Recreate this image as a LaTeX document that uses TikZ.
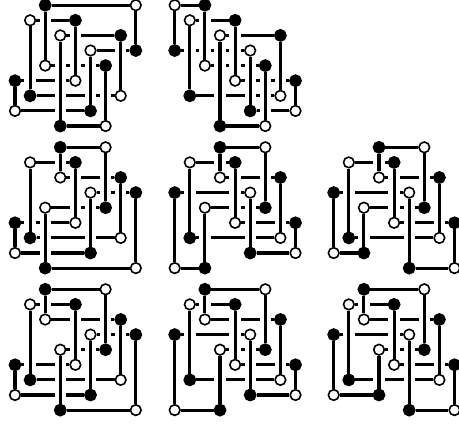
\documentclass[tikz,border=0pt]{standalone}
\tikzset{
  blk/.style={circle,fill=black,draw=black,line width=1.6pt,minimum size=11.2pt,inner sep=0pt},
  wht/.style={circle,fill=white,draw=black,line width=1.6pt,minimum size=10.6pt,inner sep=0pt},
  hseg/.style={draw=black,line width=3.1pt},
  vseg/.style={draw=black,line width=3.1pt,preaction={draw=white,line width=11.4pt}}
}
\newcommand{\gpanel}[5]{%
  \foreach \rw/\xa/\xb/\sa/\sb in {#4}{%
    \node[\sa] (#1-\xa-\rw) at ({#2+\xa*15.1},{#3+\rw*15.1}) {};
    \node[\sb] (#1-\xb-\rw) at ({#2+\xb*15.1},{#3+\rw*15.1}) {};
  }
  \foreach \rw/\xa/\xb/\sa/\sb in {#4}{%
    \draw[hseg] (#1-\xa-\rw) -- (#1-\xb-\rw);
  }
  \foreach \cl/\ya/\yb in {#5}{%
    \draw[vseg] (#1-\cl-\ya) -- (#1-\cl-\yb);
  }
}
\begin{document}
\begin{tikzpicture}[x=1pt,y=-1pt]
\useasboundingbox (0,0) rectangle (459,424);
\gpanel{a}{15}{5.2}
 {0/2/8/blk/wht,1/1/4/wht/blk,2/3/7/wht/blk,3/5/8/wht/blk,4/2/6/wht/blk,5/0/4/blk/wht,6/1/7/blk/wht,7/0/5/wht/blk,8/3/6/blk/wht}
 {0/5/7,1/1/6,2/0/4,3/2/8,4/1/5,5/3/7,6/4/8,7/2/6,8/0/3}
\gpanel{b}{174.7}{5.2}
 {0/0/2/wht/blk,1/1/4/wht/blk,2/3/7/wht/blk,3/0/5/blk/wht,4/2/6/wht/blk,5/4/8/wht/blk,6/1/7/blk/wht,7/5/8/blk/wht,8/3/6/blk/wht}
 {0/0/3,1/1/6,2/0/4,3/2/8,4/1/5,5/3/7,6/4/8,7/2/6,8/5/7}
\gpanel{c}{15}{147.3}
 {0/3/6/blk/wht,1/1/4/wht/blk,2/3/7/wht/blk,3/5/8/wht/blk,4/2/6/wht/blk,5/0/4/blk/wht,6/1/7/blk/wht,7/0/5/wht/blk,8/2/8/blk/wht}
 {0/5/7,1/1/6,2/4/8,3/0/2,4/1/5,5/3/7,6/0/4,7/2/6,8/3/8}
\gpanel{d}{174.7}{147.3}
 {0/3/6/blk/wht,1/1/4/wht/blk,2/3/7/wht/blk,3/0/5/blk/wht,4/2/6/wht/blk,5/4/8/wht/blk,6/1/7/blk/wht,7/5/8/blk/wht,8/0/2/wht/blk}
 {0/3/8,1/1/6,2/4/8,3/0/2,4/1/5,5/3/7,6/0/4,7/2/6,8/5/7}
\gpanel{e}{333.7}{147.3}
 {0/3/6/blk/wht,1/1/4/wht/blk,2/3/7/wht/blk,3/0/5/blk/wht,4/2/6/wht/blk,5/4/8/wht/blk,6/1/7/blk/wht,7/0/2/wht/blk,8/5/8/blk/wht}
 {0/3/7,1/1/6,2/4/7,3/0/2,4/1/5,5/3/8,6/0/4,7/2/6,8/5/8}
\gpanel{f}{15}{289.3}
 {0/2/6/blk/wht,1/1/4/wht/blk,2/2/7/wht/blk,3/5/8/wht/blk,4/3/6/wht/blk,5/0/4/blk/wht,6/1/7/blk/wht,7/0/5/wht/blk,8/3/8/blk/wht}
 {0/5/7,1/1/6,2/0/2,3/4/8,4/1/5,5/3/7,6/0/4,7/2/6,8/3/8}
\gpanel{g}{174.7}{289.3}
 {0/2/6/blk/wht,1/1/4/wht/blk,2/2/7/wht/blk,3/0/5/blk/wht,4/3/6/wht/blk,5/4/8/wht/blk,6/1/7/blk/wht,7/5/8/blk/wht,8/0/3/wht/blk}
 {0/3/8,1/1/6,2/0/2,3/4/8,4/1/5,5/3/7,6/0/4,7/2/6,8/5/7}
\gpanel{h}{333.7}{289.3}
 {0/2/6/blk/wht,1/1/4/wht/blk,2/2/7/wht/blk,3/0/5/blk/wht,4/3/6/wht/blk,5/4/8/wht/blk,6/1/7/blk/wht,7/0/3/wht/blk,8/5/8/blk/wht}
 {0/3/7,1/1/6,2/0/2,3/4/7,4/1/5,5/3/8,6/0/4,7/2/6,8/5/8}
\end{tikzpicture}
\end{document}
